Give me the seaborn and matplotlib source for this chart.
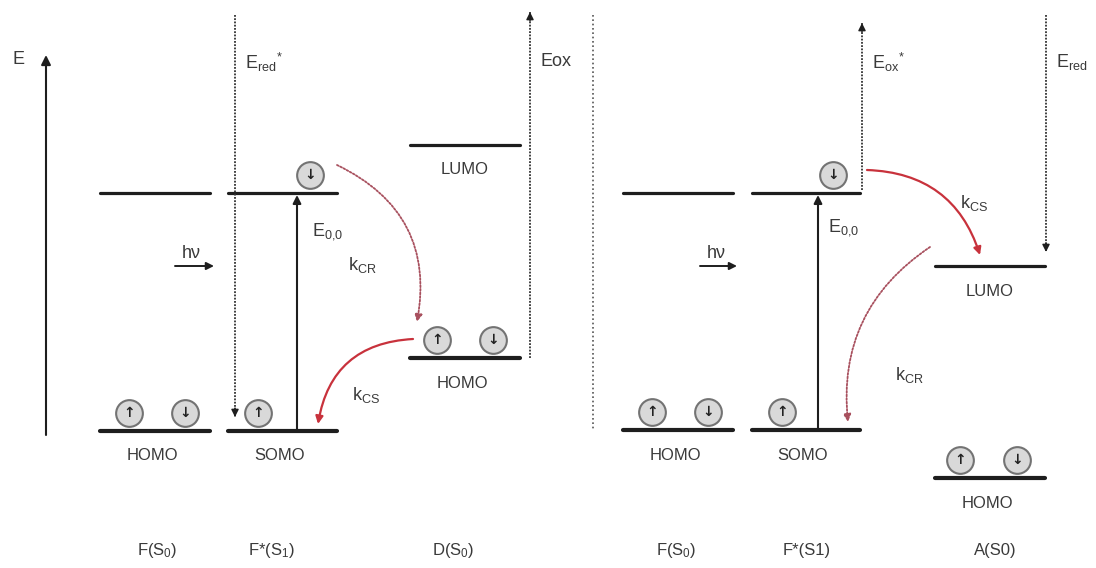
import pandas as pd
import seaborn as sns
import matplotlib.pyplot as plt


# Diagram units: one unit is one pixel of the 1096 x 568 canvas, y grows downward

# Energy levels, one per column (upper = LUMO-like, lower = HOMO/SOMO)
level_left = [100, 228, 410, 623, 752, 935]
level_right = [210, 337, 520, 733, 860, 1045]
upper_y = [193, 193, 145, 193, 193, 266]
lower_y = [431, 431, 358, 430, 430, 478]
upper_names = ["", "", "LUMO", "", "", "LUMO"]
lower_names = ["HOMO", "SOMO", "HOMO", "HOMO", "SOMO", "HOMO"]

# Species under each column
species = [r"F(S$_0$)", r"F*(S$_1$)", r"D(S$_0$)", r"F(S$_0$)", "F*(S1)", "A(S0)"]
species_x = [157, 271, 453, 676, 807, 995]

# Electrons sitting on the levels
electron_x = [129, 185, 310, 258, 437, 493, 652, 708, 833, 782, 960, 1017]
electron_y = [413, 413, 175, 413, 340, 340, 412, 412, 175, 412, 460, 460]
electron_spin = ["up", "down", "down", "up", "up", "down",
                 "up", "down", "down", "up", "up", "down"]

# Redox potential guides (dotted verticals)
pot_x = [235, 530, 862, 1046]
pot_from = [15, 358, 190, 15]
pot_to = [417, 12, 23, 252]
pot_labels = [r"E$_{red}{}^{*}$", "Eox", r"E$_{ox}{}^{*}$", r"E$_{red}$"]

# Electron transfer steps (start, end, curvature, style, label)
et_start = [(337, 165), (413, 339), (867, 170), (930, 247)]
et_end = [(417, 322), (318, 424), (980, 255), (848, 422)]
et_rad = [-0.38, 0.4, -0.35, 0.3]
et_dotted = [True, False, False, True]
et_labels = [r"k$_{CR}$", r"k$_{CS}$", r"k$_{CS}$", r"k$_{CR}$"]
et_label_pos = [(348, 265), (352, 395), (960, 203), (895, 375)]

TEXT = "#3a3a3a"
LINE = "#1e1e1e"
RED = "#c8323c"


def level_frame(y_values):
    rows = []
    for i, (x0, x1, y) in enumerate(zip(level_left, level_right, y_values)):
        rows.append({"id": i, "x": x0, "y": y})
        rows.append({"id": i, "x": x1, "y": y})
    return pd.DataFrame(rows)


def arrow(ax, tail, tip, color=LINE, lw=1.4, ls="-", rad=0.0, scale=13):
    ax.annotate("", xy=tip, xytext=tail,
                arrowprops=dict(arrowstyle="-|>", color=color, lw=lw, ls=ls,
                                mutation_scale=scale, shrinkA=0, shrinkB=0,
                                connectionstyle=f"arc3,rad={rad}"))


def main():
    sns.set_theme(style="white")
    plt.rcParams["font.family"] = ["Liberation Sans", "DejaVu Sans"]
    plt.rcParams["mathtext.default"] = "regular"

    fig = plt.figure(figsize=(10.96, 5.68), dpi=100)
    ax = fig.add_axes([0, 0, 1, 1])

    # Levels
    sns.lineplot(data=level_frame(upper_y), x="x", y="y", units="id",
                 estimator=None, color=LINE, linewidth=2.3, ax=ax)
    sns.lineplot(data=level_frame(lower_y), x="x", y="y", units="id",
                 estimator=None, color=LINE, linewidth=3.0, ax=ax)

    for x0, x1, y, name in zip(level_left, level_right, upper_y, upper_names):
        if name:
            ax.text((x0 + x1) / 2, y + 25, name, ha="center", va="center",
                    fontsize=12, color=TEXT)
    for x0, x1, y, name in zip(level_left, level_right, lower_y, lower_names):
        ax.text((x0 + x1) / 2 - 3, y + 25, name, ha="center", va="center",
                fontsize=12, color=TEXT)

    for x, label in zip(species_x, species):
        ax.text(x, 551, label, ha="center", va="center", fontsize=12, color=TEXT)

    # Electrons
    sns.scatterplot(x=electron_x, y=electron_y, s=370, color="#d9d9d9",
                    edgecolor="#737373", linewidth=1.5, zorder=4, ax=ax)
    for x, y, spin in zip(electron_x, electron_y, electron_spin):
        glyph = "\u2191" if spin == "up" else "\u2193"
        ax.text(x, y, glyph, ha="center", va="center", fontsize=10,
                fontweight="bold", color="#222222", family="DejaVu Sans", zorder=5)

    # Energy axis
    arrow(ax, (46, 435), (46, 55), lw=1.5, scale=14)
    ax.text(18, 59, "E", ha="center", va="center", fontsize=13, color=TEXT)

    # Separator between the two panels
    ax.plot([593, 593], [15, 430], color="#555555", lw=1.2, ls=(0, (1, 1.6)))

    # Redox potentials
    for x, y0, y1, label in zip(pot_x, pot_from, pot_to, pot_labels):
        ax.plot([x, x], [y0, y1], color="#333333", lw=1.3, ls=(0, (1, 0.8)))
        step = 9 if y1 > y0 else -9
        arrow(ax, (x, y1 - step), (x, y1), lw=1.0, scale=11)
        ax.text(x + 10, 62, label, ha="left", va="center", fontsize=13, color=TEXT)

    # Excitation E0,0
    for x, y0, y1 in [(297, 431, 195), (818, 430, 195)]:
        arrow(ax, (x, y0), (x, y1), lw=1.5, scale=12)
    ax.text(312, 232, r"E$_{0{,}0}$", ha="left", va="center", fontsize=13, color=TEXT)
    ax.text(828, 228, r"E$_{0{,}0}$", ha="left", va="center", fontsize=13, color=TEXT)

    # Photon
    for xt, xa0, xa1 in [(191, 175, 214), (716, 700, 737)]:
        ax.text(xt, 254, "h\u03bd", ha="center", va="center", fontsize=13, color=TEXT)
        arrow(ax, (xa0, 266), (xa1, 266), lw=1.4, scale=11)

    # Charge separation / recombination
    for s, e, r, dotted, lab, pos in zip(et_start, et_end, et_rad, et_dotted,
                                         et_labels, et_label_pos):
        if dotted:
            arrow(ax, s, e, color="#a8505e", lw=1.3, ls=(0, (1, 1)), rad=r, scale=11)
        else:
            arrow(ax, s, e, color=RED, lw=1.6, rad=r, scale=11)
        ax.text(pos[0], pos[1], lab, ha="left", va="center", fontsize=13, color=TEXT)

    ax.set_xlim(0, 1096)
    ax.set_ylim(568, 0)
    ax.axis("off")

    fig.savefig("out.png", dpi=100, facecolor="white")
    plt.close(fig)


if __name__ == "__main__":
    main()
